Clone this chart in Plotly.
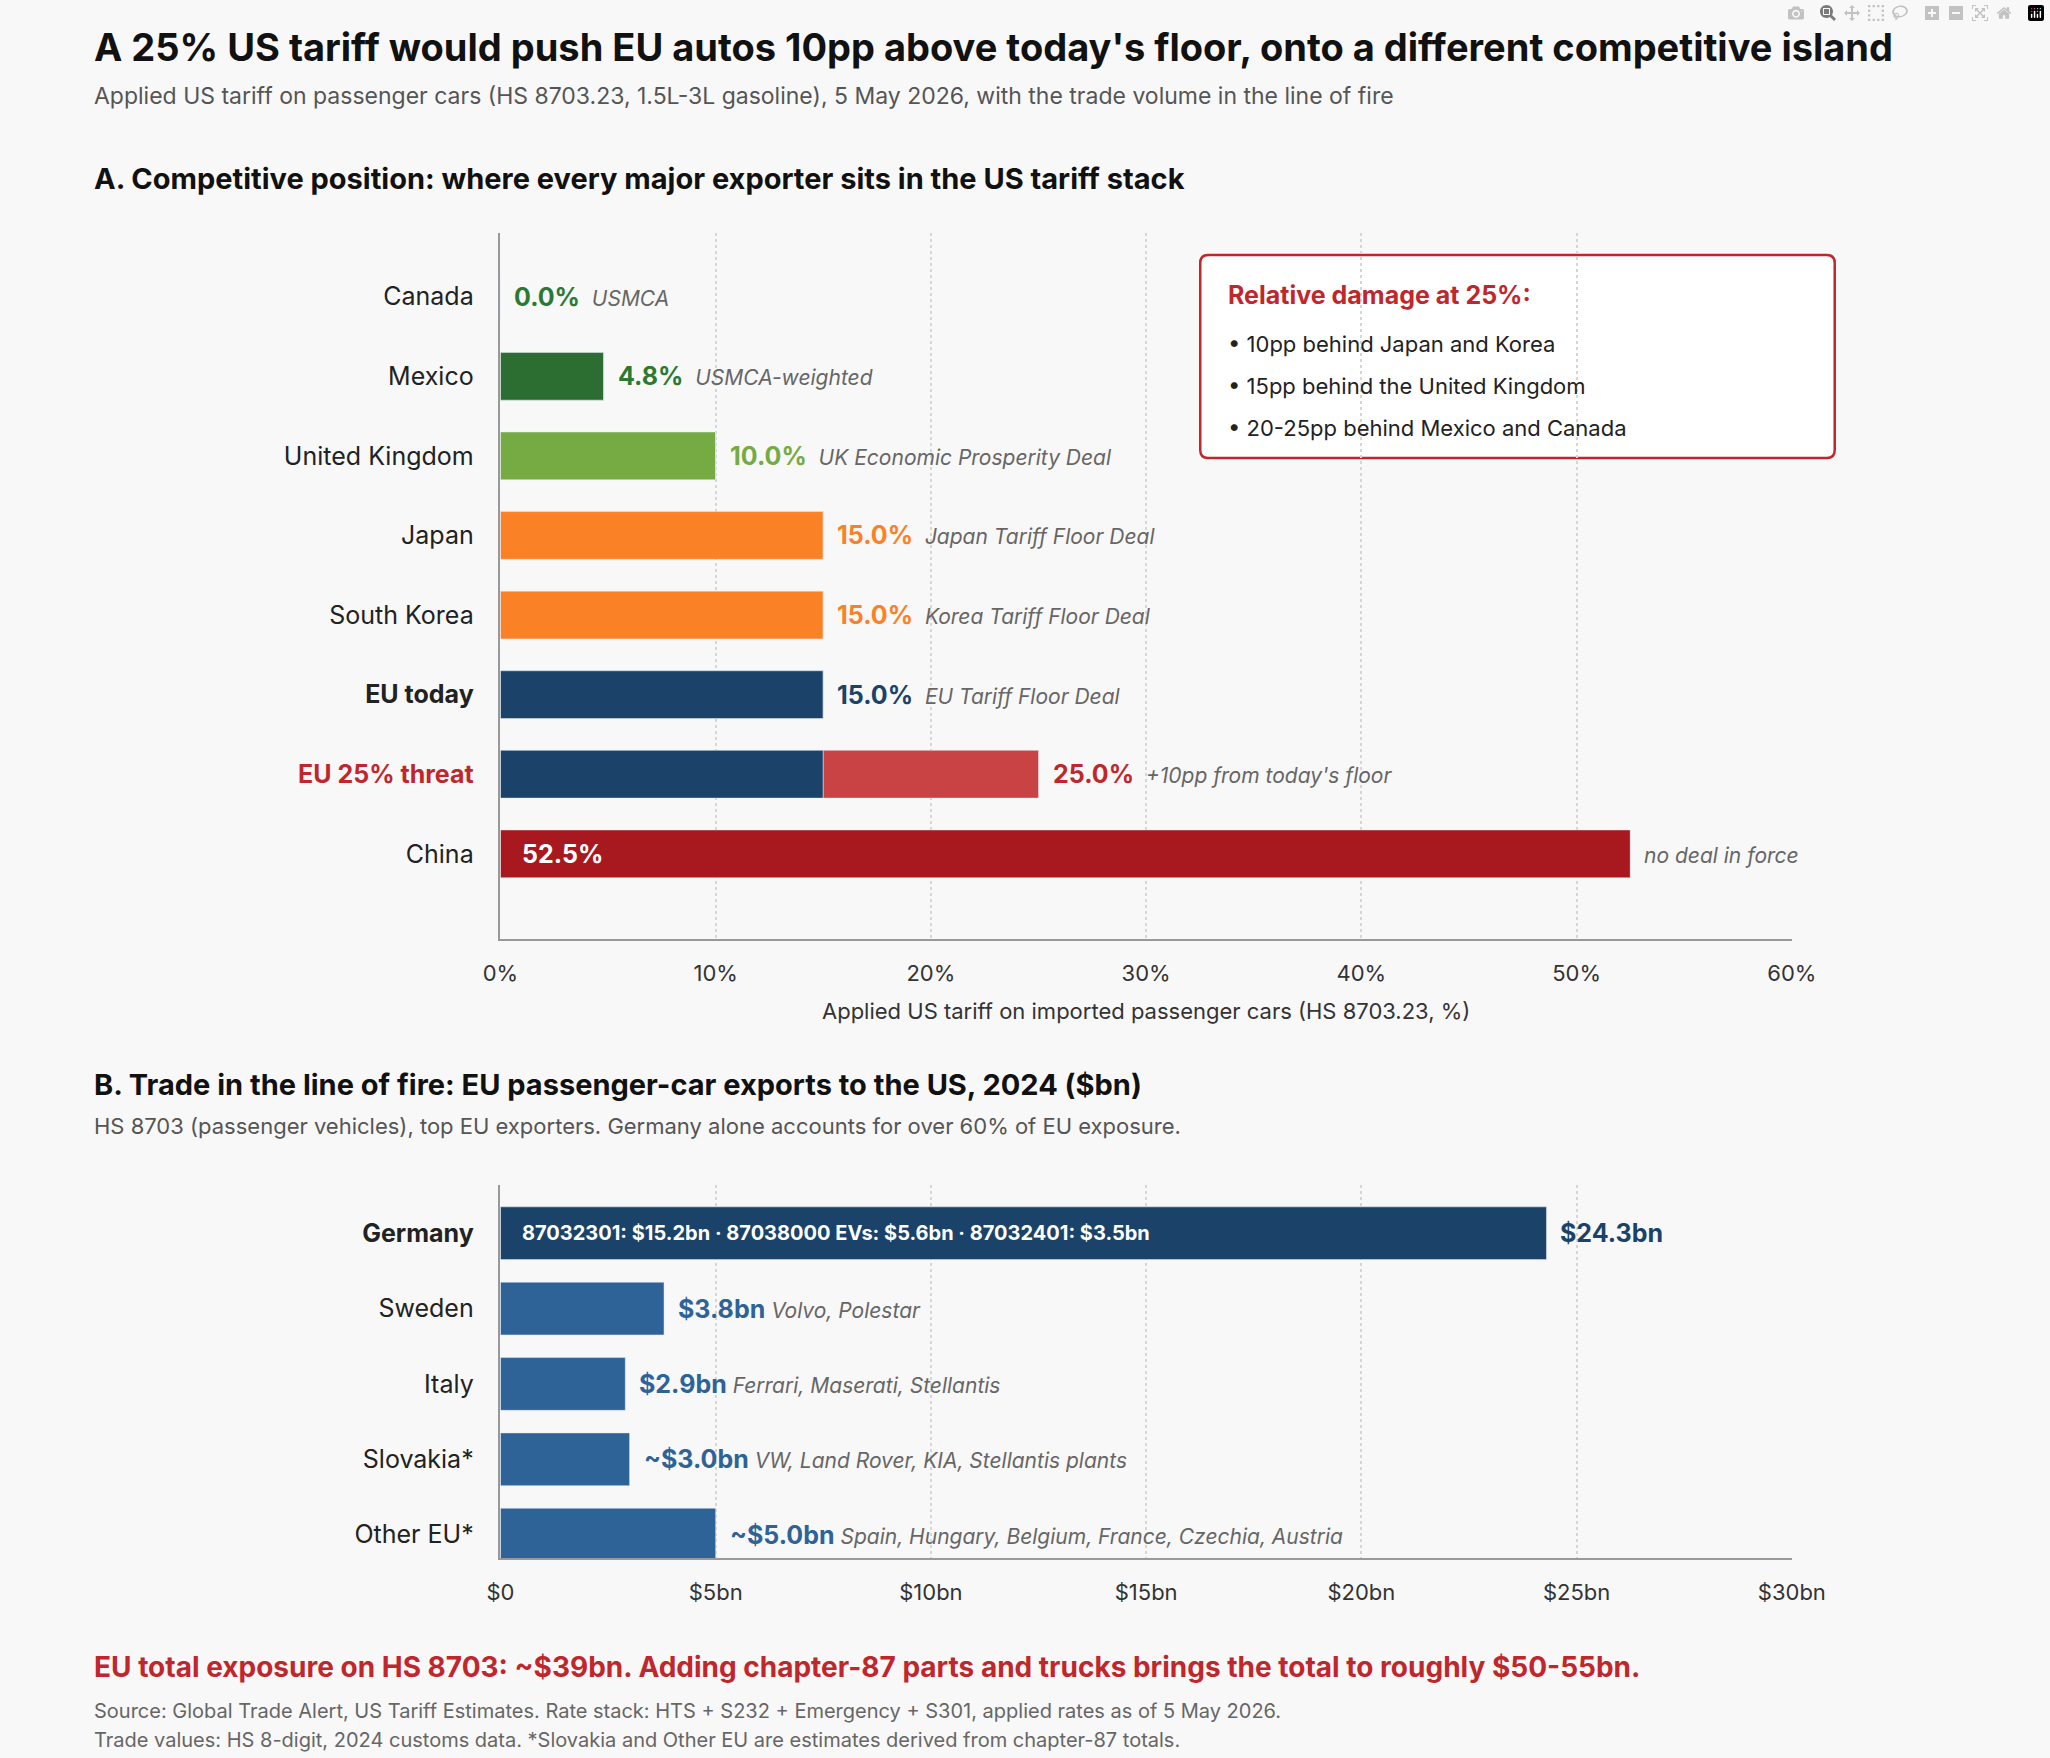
import plotly.graph_objects as go

W, H = 2050, 1758
def py(px): return 1 - px / H
def px_(x): return x / W

# Panel A data
countries = ["Canada", "Mexico", "United Kingdom", "Japan", "South Korea", "EU today", "EU 25% threat", "China"]
tariffs = [0.0, 4.8, 10.0, 15.0, 15.0, 15.0, 25.0, 52.5]
base_part = [0.0, 4.8, 10.0, 15.0, 15.0, 15.0, 15.0, 52.5]
extra_part = [0, 0, 0, 0, 0, 0, 10.0, 0]
colors_a = ["#2c6e31", "#2c6e31", "#76ab43", "#fb8126", "#fb8126", "#1b4369", "#1b4369", "#a8191f"]
notes_a = ["USMCA", "USMCA-weighted", "UK Economic Prosperity Deal", "Japan Tariff Floor Deal",
           "Korea Tariff Floor Deal", "EU Tariff Floor Deal", "+10pp from today's floor", "no deal in force"]
label_colors_a = ["#2c7a32", "#2c7a32", "#76ab43", "#fb8126", "#fb8126", "#1b4369", "#c0272d", "#a8191f"]
ticks_a = [0, 10, 20, 30, 40, 50, 60]

# Panel B data
exporters = ["Germany", "Sweden", "Italy", "Slovakia*", "Other EU*"]
exports = [24.3, 3.8, 2.9, 3.0, 5.0]
export_labels = ["$24.3bn", "$3.8bn", "$2.9bn", "~$3.0bn", "~$5.0bn"]
notes_b = ["", "Volvo, Polestar", "Ferrari, Maserati, Stellantis", "VW, Land Rover, KIA, Stellantis plants",
           "Spain, Hungary, Belgium, France, Czechia, Austria"]
colors_b = ["#1b4369", "#2e6398", "#2e6398", "#2e6398", "#2e6398"]
ticks_b = [0, 5, 10, 15, 20, 25, 30]
tick_labels_b = ["$0", "$5bn", "$10bn", "$15bn", "$20bn", "$25bn", "$30bn"]

FONT = "Inter, Noto Sans, sans-serif"
fig = go.Figure()
fig.add_trace(go.Bar(y=countries, x=base_part, orientation="h", marker_color=colors_a, width=0.6,
                     xaxis="x", yaxis="y", showlegend=False, hoverinfo="skip"))
fig.add_trace(go.Bar(y=countries, x=extra_part, base=base_part, orientation="h", marker_color="#c94345",
                     width=0.6, xaxis="x", yaxis="y", showlegend=False, hoverinfo="skip"))
fig.add_trace(go.Bar(y=exporters, x=exports, orientation="h", marker_color=colors_b, width=0.7,
                     xaxis="x2", yaxis="y2", showlegend=False, hoverinfo="skip"))

ann = []
for i, c in enumerate(countries):
    if c == "China":
        ann.append(dict(x=0, y=c, xref="x", yref="y", xanchor="left", xshift=20, showarrow=False,
                        text="<b>52.5%</b>", font=dict(size=25, color="white", family=FONT)))
        ann.append(dict(x=tariffs[i], y=c, xref="x", yref="y", xanchor="left", xshift=12, yshift=-2, showarrow=False,
                        text="<i>no deal in force</i>", font=dict(size=21, color="#666", family=FONT)))
    else:
        ann.append(dict(x=tariffs[i], y=c, xref="x", yref="y", xanchor="left", xshift=12, showarrow=False,
                        text=f"<b><span style='color:{label_colors_a[i]};font-size:25px'>{tariffs[i]:.1f}%</span></b>  <i>{notes_a[i]}</i>",
                        font=dict(size=21, color="#666", family=FONT)))
for i, e in enumerate(exporters):
    if e == "Germany":
        ann.append(dict(x=0, y=e, xref="x2", yref="y2", xanchor="left", xshift=20, showarrow=False,
                        text="<b>87032301: $15.2bn · 87038000 EVs: $5.6bn · 87032401: $3.5bn</b>",
                        font=dict(size=20, color="white", family=FONT)))
    ann.append(dict(x=exports[i], y=e, xref="x2", yref="y2", xanchor="left", xshift=12, showarrow=False,
                    text=f"<b><span style='color:{colors_b[i]};font-size:25px'>{export_labels[i]}</span></b> <i>{notes_b[i]}</i>",
                    font=dict(size=21, color="#666", family=FONT)))

def txt(x, y, t, size, color="#111", anchor="left"):
    ann.append(dict(x=px_(x), y=py(y), xref="paper", yref="paper", xanchor=anchor, yanchor="middle",
                    showarrow=False, text=t, font=dict(size=size, color=color, family=FONT)))

txt(76, 47, "<b>A 25% US tariff would push EU autos 10pp above today's floor, onto a different competitive island</b>", 38)
txt(76, 96, "Applied US tariff on passenger cars (HS 8703.23, 1.5L-3L gasoline), 5 May 2026, with the trade volume in the line of fire", 23, "#555")
txt(76, 178, "<b>A. Competitive position: where every major exporter sits in the US tariff stack</b>", 29)
txt(1157, 1011, "Applied US tariff on imported passenger cars (HS 8703.23, %)", 22, "#333", "center")
txt(76, 1084, "<b>B. Trade in the line of fire: EU passenger-car exports to the US, 2024 ($bn)</b>", 29)
txt(76, 1126, "HS 8703 (passenger vehicles), top EU exporters. Germany alone accounts for over 60% of EU exposure.", 22, "#555")
txt(76, 1667, "<b>EU total exposure on HS 8703: ~$39bn. Adding chapter-87 parts and trucks brings the total to roughly $50-55bn.</b>", 28, "#c0272d")
txt(76, 1711, "Source: Global Trade Alert, US Tariff Estimates. Rate stack: HTS + S232 + Emergency + S301, applied rates as of 5 May 2026.", 20, "#666")
txt(76, 1740, "Trade values: HS 8-digit, 2024 customs data. *Slovakia and Other EU are estimates derived from chapter-87 totals.", 20, "#666")

# callout box
txt(1239, 295, "<b>Relative damage at 25%:</b>", 25, "#c0272d")
for yy, t in zip([344, 386, 428], ["• 10pp behind Japan and Korea", "• 15pp behind the United Kingdom",
                                     "• 20-25pp behind Mexico and Canada"]):
    txt(1239, yy, t, 22, "#222")

# rounded rectangle (pixel coords converted to paper)
x0, x1, yt, yb, r = 1213, 1864, 255, 458, 8
def P(x, y): return f"{px_(x):.5f},{py(y):.5f}"
path = (f"M {P(x0+r, yt)} L {P(x1-r, yt)} Q {P(x1, yt)} {P(x1, yt+r)} L {P(x1, yb-r)} Q {P(x1, yb)} {P(x1-r, yb)} "
        f"L {P(x0+r, yb)} Q {P(x0, yb)} {P(x0, yb-r)} L {P(x0, yt+r)} Q {P(x0, yt)} {P(x0+r, yt)} Z")
shapes = [dict(type="path", xref="paper", yref="paper", path=path,
               line=dict(color="#c0272d", width=2.5), fillcolor="white", layer="below")]

tickA = [f"<b>{c}</b>" if c == "EU today" else (f"<b><span style='color:#c0272d'>{c}</span></b>" if c == "EU 25% threat" else c) for c in countries]
tickB = [f"<b>{e}</b>" if e == "Germany" else e for e in exporters]

grid = dict(showgrid=True, gridcolor="#d6d6d6", griddash="dot", gridwidth=1.5, zeroline=False,
            showline=True, linecolor="#999", linewidth=1.5, ticks="", ticklabelstandoff=14,
            tickfont=dict(size=22, color="#333", family=FONT))
fig.update_layout(
    width=W, height=H, margin=dict(l=0, r=0, t=0, b=0),
    paper_bgcolor="#f8f8f8", plot_bgcolor="#f8f8f8", barmode="overlay",
    font=dict(family=FONT),
    xaxis=dict(domain=[px_(495), px_(1820)], range=[0, 60], tickvals=ticks_a,
               ticktext=[f"{t}%" for t in ticks_a], anchor="y", **grid),
    yaxis=dict(domain=[py(939), py(233)], range=[8.07, -0.8], tickmode="array", tickvals=countries,
               ticktext=tickA, showline=True, linecolor="#999", linewidth=1.5, showgrid=False,
               tickfont=dict(size=25, color="#222", family=FONT), ticklabelstandoff=20, anchor="x"),
    xaxis2=dict(domain=[px_(495), px_(1820)], range=[0, 30], tickvals=ticks_b, ticktext=tick_labels_b,
                anchor="y2", **grid),
    yaxis2=dict(domain=[py(1558), py(1185)], range=[4.31, -0.64], tickmode="array", tickvals=exporters,
                ticktext=tickB, showline=True, linecolor="#999", linewidth=1.5, showgrid=False,
                tickfont=dict(size=25, color="#222", family=FONT), ticklabelstandoff=20, anchor="x2"),
    annotations=ann, shapes=shapes,
)
fig.write_html("out.html", post_script="document.body.style.margin='0';document.body.style.overflow='hidden';")
